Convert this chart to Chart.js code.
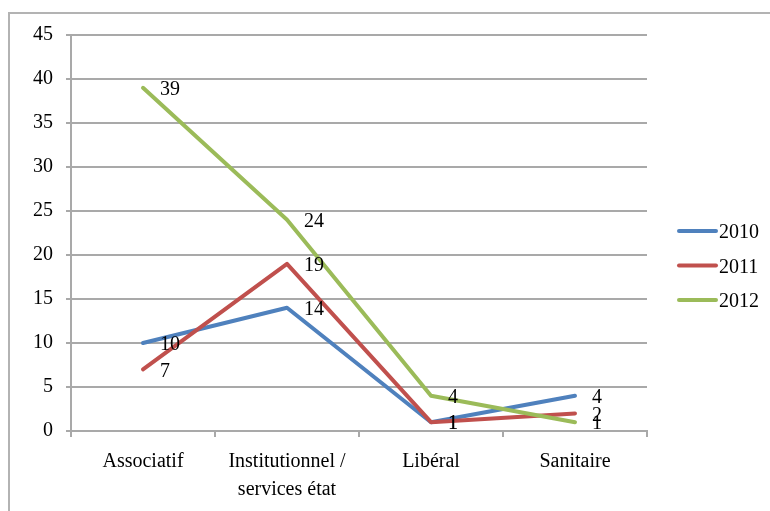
<!DOCTYPE html>
<html>
<head>
<meta charset="utf-8">
<script src="https://cdn.jsdelivr.net/npm/chart.js@4/dist/chart.umd.min.js"></script>
<style>
  html, body { margin: 0; padding: 0; background: #fff; overflow: hidden; }
  .chart-box { position: relative; width: 770px; height: 511px; }
</style>
</head>
<body>
<div class="chart-box">
  <canvas id="chart"></canvas>
</div>
<script>
// data
const categories = ['Associatif', ['Institutionnel /', 'services état'], 'Libéral', 'Sanitaire'];
const seriesNames = ['2010', '2011', '2012'];
const values2010 = [10, 14, 1, 4];
const values2011 = [7, 19, 1, 2];
const values2012 = [39, 24, 4, 1];
const yTicks = { min: 0, max: 45, step: 5 };

const colors = ['#4f81bd', '#c0504d', '#9bbb59'];
const FONT = "'Liberation Serif', 'Times New Roman', serif";
const gridGray = '#a9a9a9';

// outer frame, like the Excel chart border
const framePlugin = {
  id: 'frame',
  beforeDraw(chart) {
    const ctx = chart.ctx;
    ctx.save();
    ctx.strokeStyle = '#b3b3b3';
    ctx.lineWidth = 2;
    ctx.strokeRect(9, 13, chart.width + 20, chart.height + 20);
    ctx.restore();
  }
};

// value labels to the right of each point
const valueLabels = {
  id: 'valueLabels',
  afterDatasetsDraw(chart) {
    const ctx = chart.ctx;
    ctx.save();
    ctx.font = '20px ' + FONT;
    ctx.fillStyle = '#000';
    ctx.textAlign = 'left';
    ctx.textBaseline = 'middle';
    chart.data.datasets.forEach((ds, i) => {
      chart.getDatasetMeta(i).data.forEach((pt, j) => {
        ctx.fillText(String(ds.data[j]), pt.x + 17, pt.y + 2);
      });
    });
    ctx.restore();
  }
};

// legend on the right, drawn by hand
const sideLegend = {
  id: 'sideLegend',
  afterDraw(chart) {
    const ctx = chart.ctx;
    ctx.save();
    ctx.font = '20px ' + FONT;
    ctx.textAlign = 'left';
    ctx.textBaseline = 'middle';
    chart.data.datasets.forEach((ds, i) => {
      const y = 231 + i * 34.5;
      ctx.strokeStyle = ds.borderColor;
      ctx.lineWidth = 4;
      ctx.lineCap = 'round';
      ctx.beginPath();
      ctx.moveTo(679, y);
      ctx.lineTo(716, y);
      ctx.stroke();
      ctx.fillStyle = '#000';
      ctx.fillText(ds.label, 719, y + 2);
    });
    ctx.restore();
  }
};

const seriesValues = [values2010, values2011, values2012];

new Chart(document.getElementById('chart'), {
  type: 'line',
  data: {
    labels: categories,
    datasets: seriesNames.map((name, i) => ({
      label: name,
      data: seriesValues[i],
      borderColor: colors[i],
      backgroundColor: colors[i],
      borderWidth: 4,
      borderCapStyle: 'round',
      borderJoinStyle: 'round',
      pointRadius: 0,
      tension: 0,
      order: 3 - i,
    })),
  },
  options: {
    responsive: true,
    maintainAspectRatio: false,
    animation: false,
    layout: { padding: { left: 9, top: 35, right: 123, bottom: 0 } },
    plugins: {
      legend: { display: false },
      tooltip: { enabled: false },
    },
    scales: {
      x: {
        offset: true,
        grid: {
          offset: true,
          drawOnChartArea: false,
          color: gridGray,
          tickColor: gridGray,
          tickLength: 6,
          lineWidth: 2,
        },
        border: { color: gridGray, width: 2 },
        ticks: {
          color: '#000',
          padding: 11,
          maxRotation: 0,
          autoSkip: false,
          font: { family: FONT, size: 20, lineHeight: 1.4 },
        },
        afterFit(scale) { scale.height = 80; },
      },
      y: {
        min: yTicks.min,
        max: yTicks.max,
        ticks: {
          stepSize: yTicks.step,
          color: '#000',
          padding: 13,
          font: { family: FONT, size: 20 },
        },
        grid: {
          color: gridGray,
          tickColor: gridGray,
          tickLength: 5,
          lineWidth: 2,
        },
        border: { color: gridGray, width: 2 },
        afterFit(scale) { scale.width = 62; },
      },
    },
  },
  plugins: [framePlugin, valueLabels, sideLegend],
});
</script>
</body>
</html>
